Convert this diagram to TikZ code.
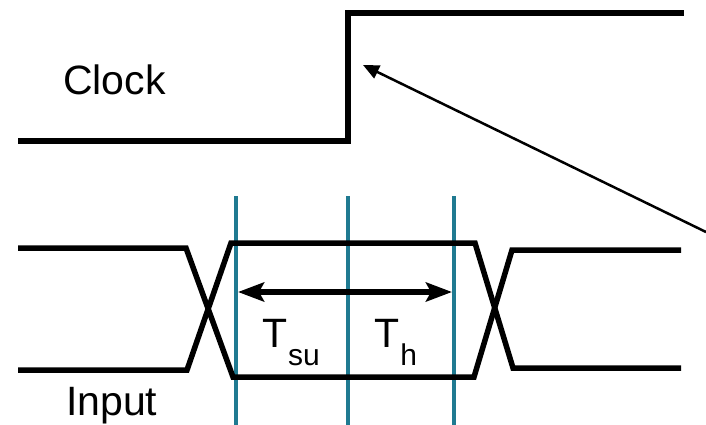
\documentclass[tikz,border=0pt]{standalone}
\usepackage{fontspec}
\setmainfont{Liberation Sans}
\usepackage{tikz}
\usetikzlibrary{arrows.meta}
\definecolor{teal}{RGB}{31,122,145}
\newcommand{\lowsub}[1]{\kern1pt\raisebox{-18pt}{\fontsize{30}{30}\selectfont #1}}
\tikzset{
  wave/.style={line width=5.5pt,draw=black,line join=miter},
  marker/.style={line width=4.5pt,draw=teal},
  span/.style={{Stealth[length=26pt,width=19pt,inset=5pt]}-{Stealth[length=26pt,width=19pt,inset=5pt]},line width=5.5pt,draw=black},
  pointer/.style={-{Triangle[length=16pt,width=14pt]},line width=2.5pt,draw=black},
  tag/.style={anchor=base west,inner sep=0pt,font=\fontsize{41}{41}\selectfont}
}
\begin{document}
\begin{tikzpicture}[x=1pt,y=-1pt]
  \useasboundingbox (0,0) rectangle (706,425);
  % clock
  \draw[wave] (18,141) -- (348,141) -- (348,13) -- (684,13);
  \node[tag] (clock) at (63,95) {Clock};
  % setup / hold markers
  \foreach \x/\n in {236/a,348/b,454/c}{
    \coordinate (\n top) at (\x,196);
    \coordinate (\n bot) at (\x,425);
    \draw[marker] (\n top) -- (\n bot);
  }
  % input
  \draw[wave] (18,248) -- (186,248) -- (233,377) -- (474,377) -- (512,250) -- (681,250);
  \draw[wave] (18,370) -- (187,370) -- (231,243) -- (475,243) -- (513,368) -- (681,368);
  \node[tag] (input) at (66,415) {Input};
  % window
  \coordinate (sl) at (238,292);
  \coordinate (sr) at (452,292);
  \draw[span] (sl) -- (sr);
  \node[tag] (tsu) at (262,347) {T\lowsub{su}};
  \node[tag] (th) at (374,347) {T\lowsub{h}};
  % pointer to clock edge
  \coordinate (far) at (706,232);
  \coordinate (edge) at (363,65);
  \draw[pointer] (far) -- (edge);
\end{tikzpicture}
\end{document}
